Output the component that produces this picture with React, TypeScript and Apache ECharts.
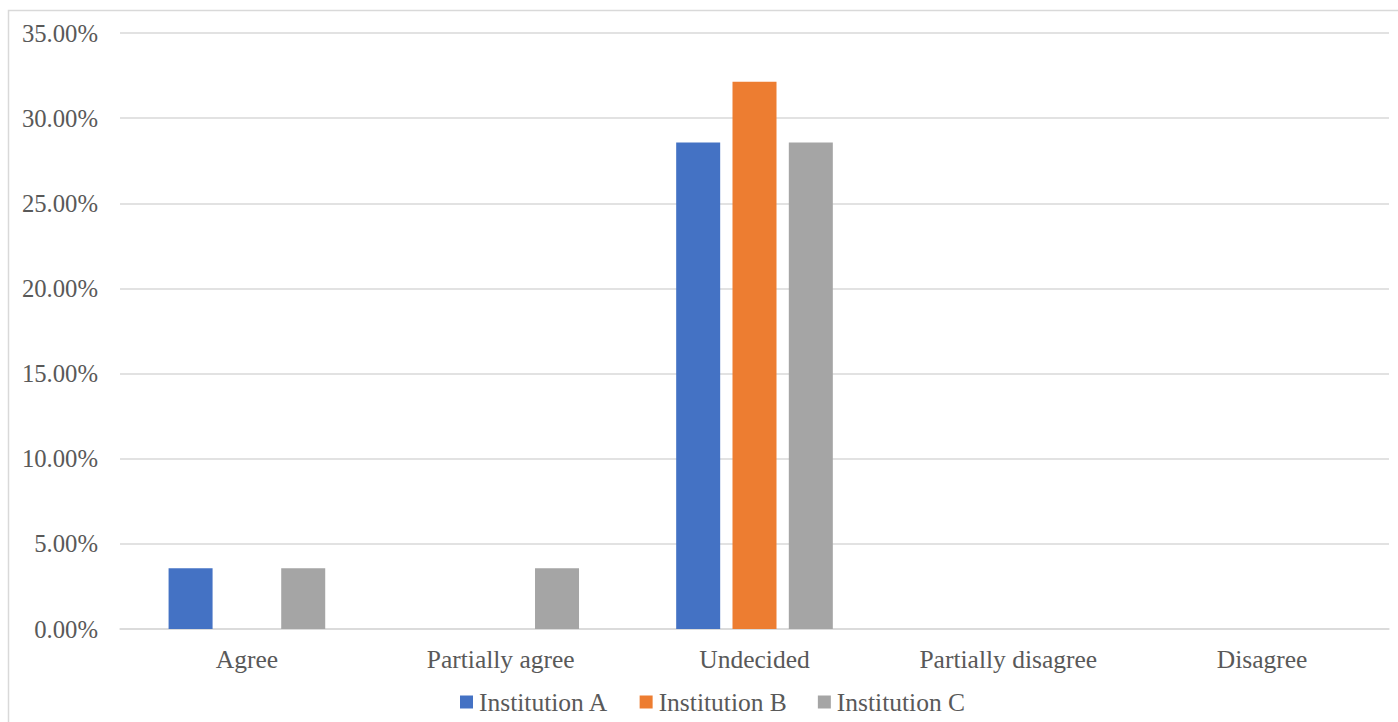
import React, { useEffect, useRef } from "react";
import * as echarts from "echarts";

const categories = ["Agree", "Partially agree", "Undecided", "Partially disagree", "Disagree"];
const institutionA = [3.57, 0, 28.57, 0, 0];
const institutionB = [0, 0, 32.14, 0, 0];
const institutionC = [3.57, 3.57, 28.57, 0, 0];
const seriesNames = ["Institution A", "Institution B", "Institution C"];
const colors = ["#4472C4", "#ED7D31", "#A5A5A5"];

const FONT = "'Liberation Serif', 'Times New Roman', serif";

export default function App() {
  const ref = useRef<HTMLDivElement>(null);
  useEffect(() => {
    document.body.style.margin = "0";
    const chart = echarts.init(ref.current!, null, { renderer: "svg" });
    const datas = [institutionA, institutionB, institutionC];
    chart.setOption({
      animation: false,
      textStyle: { fontFamily: FONT },
      graphic: [
        {
          type: "rect",
          shape: { x: 8.5, y: 10.5, width: 1420, height: 800 },
          style: { fill: "none", stroke: "#d9d9d9", lineWidth: 1.5 },
          silent: true,
        },
      ],
      grid: { left: 120, right: 9, top: 33, bottom: 93 },
      legend: {
        data: seriesNames,
        left: 460,
        top: 689,
        padding: 0,
        itemWidth: 13,
        itemHeight: 13,
        itemGap: 31,
        icon: "rect",
        textStyle: { fontFamily: FONT, fontSize: 25.5, color: "#595959", padding: [0, 0, 0, 1] },
      },
      xAxis: {
        type: "category",
        data: categories,
        axisLine: { show: true, lineStyle: { color: "#d9d9d9", width: 1.5 } },
        axisTick: { show: false },
        axisLabel: { fontFamily: FONT, fontSize: 25.5, color: "#595959", margin: 17 },
      },
      yAxis: {
        type: "value",
        min: 0,
        max: 35,
        interval: 5,
        axisLine: { show: false },
        axisTick: { show: false },
        splitLine: { lineStyle: { color: "#d9d9d9", width: 1.5 } },
        axisLabel: {
          fontFamily: FONT,
          fontSize: 24.7,
          color: "#595959",
          margin: 22,
          formatter: (v: number) => v.toFixed(2) + "%",
        },
      },
      series: seriesNames.map((name, i) => ({
        name,
        type: "bar",
        data: datas[i],
        barWidth: 44,
        barGap: "28%",
        itemStyle: { color: colors[i] },
      })),
    });
    return () => chart.dispose();
  }, []);
  return <div ref={ref} style={{ position: "absolute", left: 0, top: 0, width: 1398, height: 722 }} />;
}
